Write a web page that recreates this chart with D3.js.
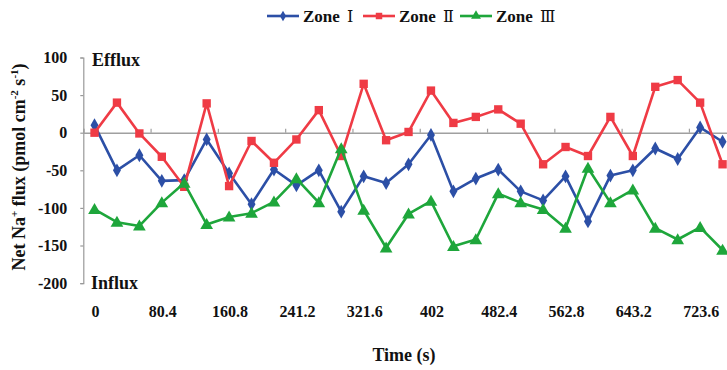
<!DOCTYPE html>
<html>
<head>
<meta charset="utf-8">
<script src="https://cdn.jsdelivr.net/npm/d3@7"></script>
<style>
  html, body { margin: 0; padding: 0; background: #fff; }
  svg { display: block; }
</style>
</head>
<body>
<svg id="chart" width="727" height="370"></svg>
<script>
// ---- data ----
const times = d3.range(29).map(i => +(i * 26.8).toFixed(1));
const xTickLabels = ["0", "80.4", "160.8", "241.2", "321.6", "402", "482.4", "562.8", "643.2", "723.6"];
const yTicks = [100, 50, 0, -50, -100, -150, -200];
const seriesNames = ["Zone", "Zone", "Zone"];
const seriesNumerals = ["Ⅰ", "Ⅱ", "Ⅲ"];
const zone1 = [10, -50, -30, -64, -63, -9, -54, -95, -49, -70, -50, -105, -58, -67, -42, -3, -78, -61, -49, -78, -90, -58, -118, -57, -50, -21, -35, 7, -12];
const zone2 = [0, 40, -1, -32, -72, 39, -71, -11, -40, -9, 30, -31, 65, -10, 1, 56, 13, 21, 31, 12, -42, -19, -31, 21, -31, 61, 70, 40, -42];
const zone3 = [-102, -119, -124, -93, -67, -122, -112, -107, -92, -61, -93, -21, -103, -153, -108, -91, -151, -142, -81, -93, -102, -127, -47, -93, -76, -127, -142, -126, -156];

const SERIF = "'Liberation Serif', 'Times New Roman', serif";
function font(sel, size) {
  return sel.style("font-family", SERIF).style("font-weight", "bold").style("font-size", size + "px").attr("fill", "#111");
}

// ---- layout ----
const svg = d3.select("#chart");
const left = 83.3, step = 22.43;
const right = left + times.length * step;
const yTop = 57.5, yBot = 283.1;

const x = d3.scaleBand().domain(times.map(String)).range([left, right]).paddingInner(0).paddingOuter(0);
const xb = d3.scaleLinear().domain([0, times.length]).range([left, right]);
const y = d3.scaleLinear().domain([-200, 100]).range([yBot, yTop]);
const cx = t => x(String(t)) + x.bandwidth() / 2;

const colors = ["#2C4FA6", "#EF3B45", "#1EA63B"];
const data = [zone1, zone2, zone3];

// y axis
const yAxis = svg.append("g").attr("transform", `translate(${left},0)`)
  .call(d3.axisLeft(y).tickValues(yTicks).tickSize(3).tickPadding(13).tickFormat(d => d));
yAxis.select(".domain").attr("stroke", "#999").attr("stroke-width", 1.2);
yAxis.selectAll(".tick line").attr("stroke", "#999").attr("stroke-width", 1.2);
font(yAxis.selectAll(".tick text"), 16);

// zero line with category boundary ticks
const zAxis = svg.append("g").attr("transform", `translate(0,${y(0)})`)
  .call(d3.axisTop(xb).tickValues(d3.range(0, times.length, 3)).tickSize(4).tickFormat(""));
zAxis.select(".domain").attr("stroke", "#a0a0a0").attr("stroke-width", 1.4);
zAxis.selectAll(".tick line").attr("stroke", "#a0a0a0").attr("stroke-width", 1.2);

// x labels (low)
const labelTimes = times.filter((t, i) => i % 3 === 0);
const xAxis = svg.append("g").attr("transform", `translate(1,300)`)
  .call(d3.axisBottom(x).tickValues(labelTimes.map(String)).tickSize(0).tickPadding(6)
    .tickFormat((d, i) => xTickLabels[i]));
xAxis.select(".domain").remove();
font(xAxis.selectAll(".tick text"), 16);

// Efflux / Influx
font(svg.append("text").attr("x", 92).attr("y", 66), 18).text("Efflux");
font(svg.append("text").attr("x", 91).attr("y", 289), 18).text("Influx");

// axis titles
font(svg.append("text").attr("x", 404).attr("y", 361).attr("text-anchor", "middle"), 18).text("Time (s)");
const yt = font(svg.append("text").attr("transform", "translate(25,167) rotate(-90)").attr("text-anchor", "middle"), 18);
yt.append("tspan").text("Net Na");
yt.append("tspan").attr("dy", -7).style("font-size", "11px").text("+");
yt.append("tspan").attr("dy", 7).text(" flux (pmol cm");
yt.append("tspan").attr("dy", -7).style("font-size", "11px").text("-2");
yt.append("tspan").attr("dy", 7).text(" s");
yt.append("tspan").attr("dy", -7).style("font-size", "11px").text("-1");
yt.append("tspan").attr("dy", 7).text(")");

// markers
const sym = [d3.symbolDiamond, d3.symbolSquare, d3.symbolTriangle];
const symSize = [55, 70, 70];

const line = d3.line().x((d, i) => cx(times[i])).y(d => y(d));
data.forEach((vals, k) => {
  const g = svg.append("g");
  g.append("path").datum(vals).attr("d", line).attr("fill", "none")
    .attr("stroke", colors[k]).attr("stroke-width", 2.6).attr("stroke-linejoin", "round");
  g.selectAll("path.m").data(vals).join("path").attr("class", "m")
    .attr("transform", (d, i) => `translate(${cx(times[i])},${y(d) + (k === 2 ? 1 : 0)})`)
    .attr("d", d3.symbol().type(sym[k]).size(symSize[k])).attr("fill", colors[k]);
});

// legend
const legX = [267, 363, 460];
const lg = svg.append("g");
seriesNames.forEach((name, k) => {
  const x0 = legX[k];
  lg.append("line").attr("x1", x0).attr("x2", x0 + 32).attr("y1", 16).attr("y2", 16)
    .attr("stroke", colors[k]).attr("stroke-width", 2.6);
  lg.append("path").attr("transform", `translate(${x0 + 16},16)`)
    .attr("d", d3.symbol().type(sym[k]).size(symSize[k] * 0.6)).attr("fill", colors[k]);
  const t = font(lg.append("text").attr("x", x0 + 36).attr("y", 22), 17);
  t.append("tspan").text(name + " ");
  t.append("tspan").attr("dx", 3).style("font-family", "'DejaVu Serif', serif").style("font-weight", "normal").style("font-size", "16px").text(seriesNumerals[k]);
});
</script>
</body>
</html>
